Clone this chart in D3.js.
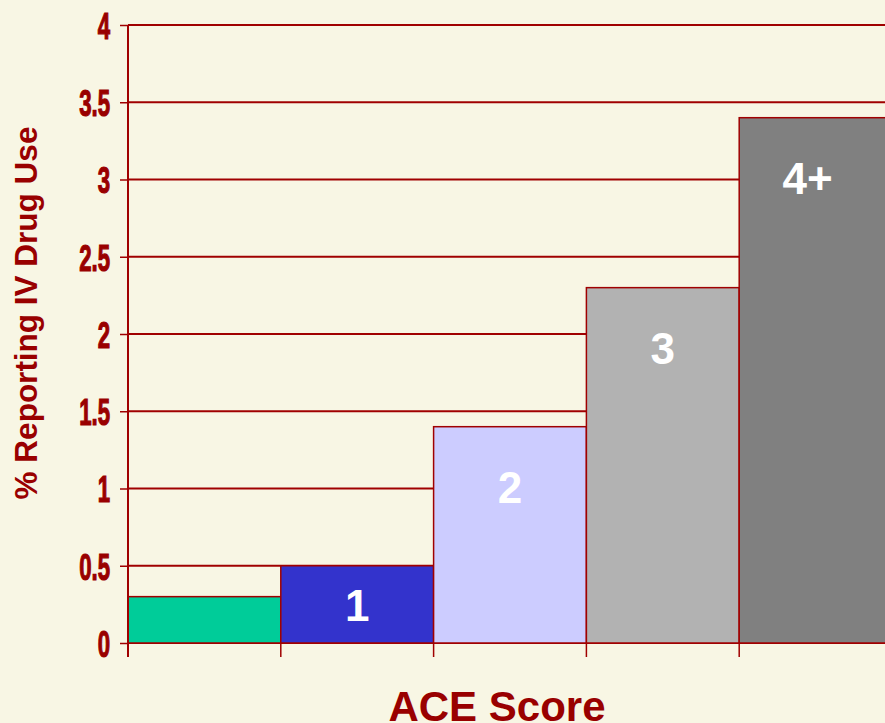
<!DOCTYPE html>
<html>
<head>
<meta charset="utf-8">
<script src="https://cdn.jsdelivr.net/npm/d3@7"></script>
<style>
  html, body { margin: 0; padding: 0; background: #f8f6e4; overflow: hidden; }
  svg { display: block; }
</style>
</head>
<body>
<div id="chart"></div>
<script>
// ACE score categories and % reporting IV drug use
var categories = ["0", "1", "2", "3", "4+"];
var barLabels = ["", "1", "2", "3", "4+"];
var values = [0.3, 0.5, 1.4, 2.3, 3.4];
var barColors = ["#00cc99", "#3333cc", "#ccccff", "#b2b2b2", "#808080"];
var yTicks = [0, 0.5, 1, 1.5, 2, 2.5, 3, 3.5, 4];

var width = 885, height = 723;
var dark = "#990000";

var svg = d3.select("#chart").append("svg")
    .attr("width", width).attr("height", height);

svg.append("rect").attr("width", width).attr("height", height).attr("fill", "#f8f6e4");

var plotLeft = 128, plotTop = 25, plotBottom = 643;

var fnScaleX = d3.scaleBand()
    .domain(categories)
    .range([plotLeft, plotLeft + 5 * 152.8])
    .paddingInner(0).paddingOuter(0);

var fnScaleY = d3.scaleLinear()
    .domain([0, 4])
    .range([plotBottom, plotTop]);

// gridlines
svg.append("g").selectAll("line").data(yTicks).enter().append("line")
    .attr("x1", plotLeft).attr("x2", width)
    .attr("y1", function (d) { return fnScaleY(d); })
    .attr("y2", function (d) { return fnScaleY(d); })
    .attr("stroke", "#a00000").attr("stroke-width", 2);

// bars
svg.append("g").selectAll("rect").data(values).enter().append("rect")
    .attr("x", function (d, i) { return fnScaleX(categories[i]); })
    .attr("width", fnScaleX.bandwidth())
    .attr("y", function (d) { return fnScaleY(d); })
    .attr("height", function (d) { return plotBottom - fnScaleY(d); })
    .attr("fill", function (d, i) { return barColors[i]; })
    .attr("stroke", "#a00000").attr("stroke-width", 1.5);

// bar labels
svg.append("g").selectAll("text").data(values).enter().append("text")
    .attr("x", function (d, i) { return fnScaleX(categories[i]) + fnScaleX.bandwidth() / 2 - (i == 4 ? 8 : 0); })
    .attr("y", function (d) {
        var t = fnScaleY(d);
        return Math.min(t + 76, (t + plotBottom) / 2 + 17);
    })
    .attr("text-anchor", "middle")
    .attr("fill", "#ffffff")
    .style("font", "bold 44px 'Liberation Sans', Arial, sans-serif")
    .text(function (d, i) { return barLabels[i]; });

// y axis
var axisY = d3.axisLeft(fnScaleY).tickValues(yTicks).tickSize(8).tickFormat(d3.format(""));
var gy = svg.append("g")
    .attr("transform", "translate(" + plotLeft + ",0)")
    .call(axisY);
gy.select(".domain").remove();
gy.selectAll(".tick line").attr("stroke", "#a00000").attr("stroke-width", 1.5);
gy.selectAll(".tick text")
    .attr("x", 0).attr("dy", "0.36em")
    .attr("transform", "translate(-18,0) scale(0.6,1)")
    .attr("fill", dark)
    .attr("stroke", dark).attr("stroke-width", 1.2)
    .style("font", "bold 37px 'Liberation Sans Narrow', 'Arial Narrow', sans-serif");

svg.append("line")
    .attr("x1", plotLeft).attr("x2", plotLeft)
    .attr("y1", plotTop).attr("y2", plotBottom + 14)
    .attr("stroke", "#a00000").attr("stroke-width", 2);

// x axis ticks at band edges
var edges = categories.map(function (c) { return fnScaleX(c); });
svg.append("g").selectAll("line").data(edges).enter().append("line")
    .attr("x1", function (d) { return d; }).attr("x2", function (d) { return d; })
    .attr("y1", plotBottom).attr("y2", plotBottom + 14)
    .attr("stroke", "#a00000").attr("stroke-width", 1.5);

// axis titles
svg.append("text")
    .attr("transform", "translate(37,313) rotate(-90)")
    .attr("text-anchor", "middle")
    .attr("fill", dark)
    .style("font", "bold 31.5px 'Liberation Sans', Arial, sans-serif")
    .text("% Reporting IV Drug Use");

svg.append("text")
    .attr("x", 497).attr("y", 721)
    .attr("text-anchor", "middle")
    .attr("fill", dark)
    .style("font", "bold 42px 'Liberation Sans', Arial, sans-serif")
    .text("ACE Score");
</script>
</body>
</html>
